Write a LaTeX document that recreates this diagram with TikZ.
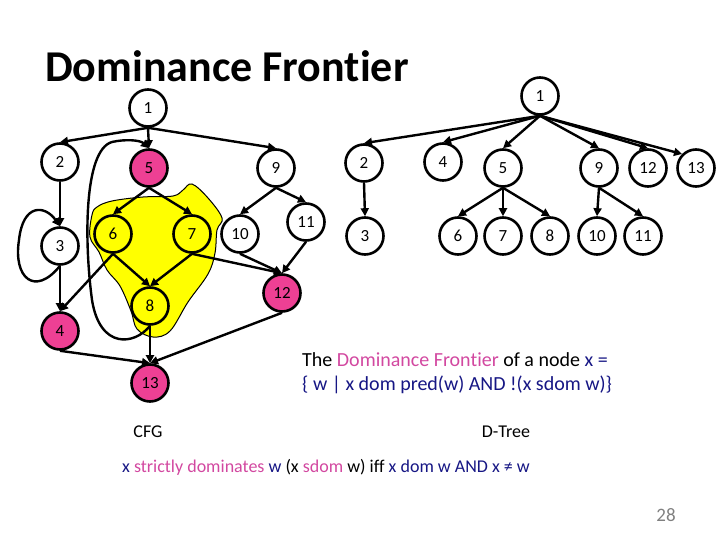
\documentclass[tikz,border=0pt]{standalone}
\usepackage{fontspec}
\setmainfont{Carlito}[Ligatures=NoCommon]
\usetikzlibrary{arrows.meta}
\definecolor{nodepink}{RGB}{238,64,148}
\definecolor{txtpink}{RGB}{210,72,160}
\definecolor{navy}{RGB}{22,22,132}
\definecolor{blobyellow}{RGB}{255,255,0}
\tikzset{
  vtx/.style={circle,draw=black,line width=2.6pt,minimum size=37pt,inner sep=0pt,fill=white,font=\fontsize{17}{17}\selectfont},
  pinkv/.style={vtx,fill=nodepink},
  yelv/.style={vtx,fill=blobyellow},
  arr/.style={line width=2.4pt,-{Triangle[length=8pt,width=8pt]}},
}
\begin{document}
\begin{tikzpicture}[x=1pt,y=-1pt]
\useasboundingbox (0,0) rectangle (720,540);
% title
\node[anchor=base west,inner sep=0pt,font=\fontsize{44}{44}\selectfont\bfseries] (title) at (45,82) {Dominance Frontier};
% yellow blob
\fill[blobyellow,draw=black,line width=1pt] plot[smooth cycle,tension=0.6] coordinates {
 (97,207) (112,201) (143,197) (173,196) (183,190) (192,184) (208,198) (222,218) (217,230) (215,253) (208,274) (188,302) (170,331) (153,337) (137,329) (131,311) (120,286) (107,270) (99,252) (90,237) (92,215)};
% CFG nodes
\node[vtx] (c1) at (148,108) {1};
\node[vtx] (c2) at (60,162) {2};
\node[pinkv] (c5) at (149,168) {5};
\node[vtx] (c9) at (276,168) {9};
\node[vtx] (c3) at (60,246) {3};
\node[yelv] (c6) at (113,234) {6};
\node[yelv] (c7) at (192,234) {7};
\node[vtx] (c10) at (240,234) {10};
\node[vtx] (c11) at (306,222) {11};
\node[pinkv] (c12) at (282,293) {12};
\node[yelv] (c8) at (150,306) {8};
\node[pinkv] (c4) at (60,331) {4};
\node[pinkv] (c13) at (150,383) {13};
% CFG edges
\draw[arr] (c1.south) -- (c2.north);
\draw[arr] (c1.south) -- (c5.north);
\draw[arr] (c1.south) -- (c9.north);
\draw[arr] (c2.south) -- (c3.north);
\draw[arr] (c3.south) -- (c4.north);
\draw[arr] (c3.south) .. controls (35,297) and (13,278) .. (19,240) .. controls (23,203) and (45,205) .. (c3.north);
\draw[arr] (c5.south) -- (c6.north);
\draw[arr] (c5.south) -- (c7.north);
\draw[arr] (c6.south) -- (c8.north);
\draw[arr] (c7.south) -- (c8.north);
\draw[arr] (c6.south) -- (c4.north);
\draw[arr] (c7.south) -- (c12.north);
\draw[arr] (c9.south) -- (c10.north);
\draw[arr] (c9.south) -- (c11.north);
\draw[arr] (c10.south) -- (c12.north);
\draw[arr] (c11.south) -- (c12.north);
\draw[arr] (c8.south) -- (c13.north);
\draw[arr] (c4.south) -- (c13.north);
\draw[arr] (c12.south) -- (c13.north);
\draw[arr] (c8.south) .. controls (135,345) and (100,350) .. (92,300) .. controls (84,240) and (84,150) .. (112,142) .. controls (125,139) and (140,140) .. (c5.north);
% D-tree nodes
\node[vtx] (d1) at (540,96) {1};
\node[vtx] (d2) at (364,163) {2};
\node[vtx] (d4) at (443,162) {4};
\node[vtx] (d5) at (503,168) {5};
\node[vtx] (d9) at (599,168) {9};
\node[vtx] (d12) at (648,168) {12};
\node[vtx] (d13) at (696,168) {13};
\node[vtx] (d3) at (365,236) {3};
\node[vtx] (d6) at (458,236) {6};
\node[vtx] (d7) at (503,236) {7};
\node[vtx] (d8) at (550,236) {8};
\node[vtx] (d10) at (597,236) {10};
\node[vtx] (d11) at (643,236) {11};
% D-tree edges
\draw[arr] (d1.south) -- (d2.north);
\draw[arr] (d1.south) -- (d4.north);
\draw[arr] (d1.south) -- (d5.north);
\draw[arr] (d1.south) -- (d9.north);
\draw[arr] (d1.south) -- (d12.north);
\draw[arr] (d1.south) -- (d13.north west);
\draw[arr] (d2.south) -- (d3.north);
\draw[arr] (d5.south) -- (d6.north);
\draw[arr] (d5.south) -- (d7.north);
\draw[arr] (d5.south) -- (d8.north);
\draw[arr] (d9.south) -- (d10.north);
\draw[arr] (d9.south) -- (d11.north);
% texts
\node[anchor=base west,inner sep=0pt,font=\fontsize{20}{20}\selectfont] (def1) at (302,366) {The \textcolor{txtpink}{Dominance Frontier} of a node \textcolor{navy}{x =}};
\node[anchor=base west,inner sep=0pt,font=\fontsize{20}{20}\selectfont,text=navy] (def2) at (302,390) {\{ w | x dom pred(w) AND !(x sdom w)\}};
\node[font=\fontsize{18}{18}\selectfont] (cfg) at (148,432) {CFG};
\node[font=\fontsize{18}{18}\selectfont] (dtree) at (506,432) {D-Tree};
\node[anchor=base west,inner sep=0pt,font=\fontsize{18}{18}\selectfont] (sdom) at (122,472) {\textcolor{navy}{x} \textcolor{txtpink}{strictly dominates} \textcolor{navy}{w} (x \textcolor{txtpink}{sdom} w) iff \textcolor{navy}{x dom w AND x ≠ w}};
\node[font=\fontsize{19}{19}\selectfont,text=gray] (pg) at (666,515) {28};
\end{tikzpicture}
\end{document}
